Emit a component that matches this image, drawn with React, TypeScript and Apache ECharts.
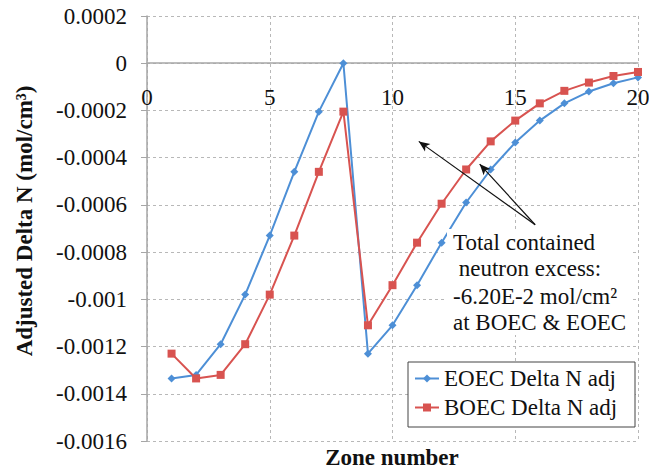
import React, { useEffect, useRef } from "react";
import * as echarts from "echarts";

// Zone index along the core
const zones = [1, 2, 3, 4, 5, 6, 7, 8, 9, 10, 11, 12, 13, 14, 15, 16, 17, 18, 19, 20];

// Adjusted Delta N per zone (mol/cm3), end of equilibrium cycle
const eoecDeltaN = [
  -0.001335, -0.00132, -0.00119, -0.00098, -0.00073, -0.00046, -0.000205, 0,
  -0.00123, -0.00111, -0.00094, -0.00076, -0.00059, -0.00045, -0.000336,
  -0.000243, -0.00017, -0.00012, -0.000085, -0.00006,
];

// Adjusted Delta N per zone (mol/cm3), beginning of equilibrium cycle
const boecDeltaN = [
  -0.00123, -0.001335, -0.00132, -0.00119, -0.00098, -0.00073, -0.00046, -0.000205,
  -0.00111, -0.00094, -0.00076, -0.000595, -0.00045, -0.000331, -0.000243,
  -0.00017, -0.000117, -0.000082, -0.000054, -0.000037,
];

const seriesNames = ["EOEC Delta N adj", "BOEC Delta N adj"];

// Axis ranges
const xMin = 0;
const xMax = 20;
const xStep = 5;
const yMin = -0.0016;
const yMax = 0.0002;
const yStep = 0.0002;

// Annotation text and the arrows pointing at the two curves
const noteLines = ["Total contained", " neutron excess:", "-6.20E-2 mol/cm\u00b2", "at BOEC & EOEC"];
const arrowTail = [15.81, -0.000684];
const arrowHeads = [
  [11.07, -0.000331],
  [13.55, -0.000427],
];

const FONT = "Liberation Serif, Times New Roman, serif";
const BLUE = "#4d8fd6";
const RED = "#d85350";
const AXIS = "#a6a6a6";
const GRID = "#b8b8b8";

// Plot area
const GRID_TOP = 16;
const GRID_BOTTOM = 29;
const CHART_H = 470;

export default function App() {
  const ref = useRef<HTMLDivElement>(null);

  useEffect(() => {
    document.body.style.margin = "0";
    if (!ref.current) return;
    const chart = echarts.init(ref.current, undefined, { renderer: "svg" });

    const toPairs = (vals: number[]) => zones.map((z, i) => [z, vals[i]]);

    // The zone axis sits on the zero line: shift it down from the top edge
    const plotH = CHART_H - GRID_TOP - GRID_BOTTOM;
    const zeroOffset = (plotH * yMax) / (yMax - yMin);

    const noteText = (text: string, x: number, y: number) => ({
      type: "text",
      x,
      y,
      z: 5,
      style: {
        text,
        font: `23px ${FONT}`,
        fill: "#111",
        align: "left",
        verticalAlign: "middle",
        textAlign: "left",
        textVerticalAlign: "middle",
      },
    });

    chart.setOption({
      animation: false,
      backgroundColor: "#fff",
      grid: {
        left: 147,
        right: 11,
        top: GRID_TOP,
        bottom: GRID_BOTTOM,
        containLabel: false,
        outerBoundsMode: "none",
      },
      xAxis: {
        type: "value",
        position: "top",
        offset: -zeroOffset,
        min: xMin,
        max: xMax,
        interval: xStep,
        axisLine: { show: true, onZero: false, lineStyle: { color: AXIS, width: 1.5 } },
        axisTick: { show: false },
        axisLabel: { inside: true, margin: 23, fontSize: 23, fontFamily: FONT, color: "#111" },
        splitLine: { show: true, lineStyle: { type: [3, 3], color: GRID, width: 1 } },
      },
      yAxis: {
        type: "value",
        min: yMin,
        max: yMax,
        interval: yStep,
        axisLine: { show: true, onZero: false, lineStyle: { color: AXIS, width: 1.5 } },
        axisTick: { show: true, length: 6, lineStyle: { color: AXIS } },
        axisLabel: {
          margin: 20,
          fontSize: 23,
          fontFamily: FONT,
          color: "#111",
          formatter: (v: number) => String(Number(v.toFixed(4))),
        },
        splitLine: { show: true, lineStyle: { type: [3, 3], color: GRID, width: 1 } },
      },
      legend: {
        data: seriesNames,
        orient: "vertical",
        left: 414,
        top: 367,
        itemWidth: 24,
        itemHeight: 10,
        itemGap: 6,
        padding: 0,
        z: 6,
        textStyle: { fontSize: 23, fontFamily: FONT, color: "#111" },
      },
      series: [
        {
          name: seriesNames[0],
          type: "line",
          data: toPairs(eoecDeltaN),
          symbol: "diamond",
          symbolSize: 8,
          color: BLUE,
          lineStyle: { width: 2, color: BLUE },
          itemStyle: { color: BLUE },
          z: 2,
        },
        {
          name: seriesNames[1],
          type: "line",
          data: toPairs(boecDeltaN),
          symbol: "rect",
          symbolSize: 8,
          color: RED,
          lineStyle: { width: 2, color: RED },
          itemStyle: { color: RED },
          z: 3,
          markLine: {
            silent: true,
            symbol: ["none", "arrow"],
            symbolSize: [7, 11],
            label: { show: false },
            lineStyle: { color: "#111", width: 1.2, type: "solid" },
            data: arrowHeads.map((h) => [{ coord: arrowTail }, { coord: h }]),
          },
        },
      ],
      graphic: [
        {
          type: "rect",
          z: 4,
          shape: { x: 447, y: 229, width: 186, height: 106 },
          style: { fill: "#fff", stroke: null },
        },
        noteText(noteLines[0], 453, 242),
        noteText(noteLines[1], 453, 268),
        noteText(noteLines[2], 453, 296),
        noteText(noteLines[3], 453, 322),
        {
          type: "rect",
          z: 4,
          shape: { x: 408, y: 362, width: 227, height: 65 },
          style: { fill: "#fff", stroke: "#444", lineWidth: 1 },
        },
        {
          type: "text",
          x: 24,
          y: 221,
          rotation: Math.PI / 2,
          z: 5,
          style: {
            text: "Adjusted Delta N (mol/cm\u00b3)",
            font: `bold 23px ${FONT}`,
            fill: "#111",
            align: "center",
            verticalAlign: "middle",
            textAlign: "center",
            textVerticalAlign: "middle",
          },
        },
        {
          type: "text",
          x: 392,
          y: 457,
          z: 5,
          style: {
            text: "Zone number",
            font: `bold 23px ${FONT}`,
            fill: "#111",
            align: "center",
            verticalAlign: "middle",
            textAlign: "center",
            textVerticalAlign: "middle",
          },
        },
      ],
    });

    return () => chart.dispose();
  }, []);

  return <div ref={ref} style={{ width: 649, height: 470 }} />;
}
